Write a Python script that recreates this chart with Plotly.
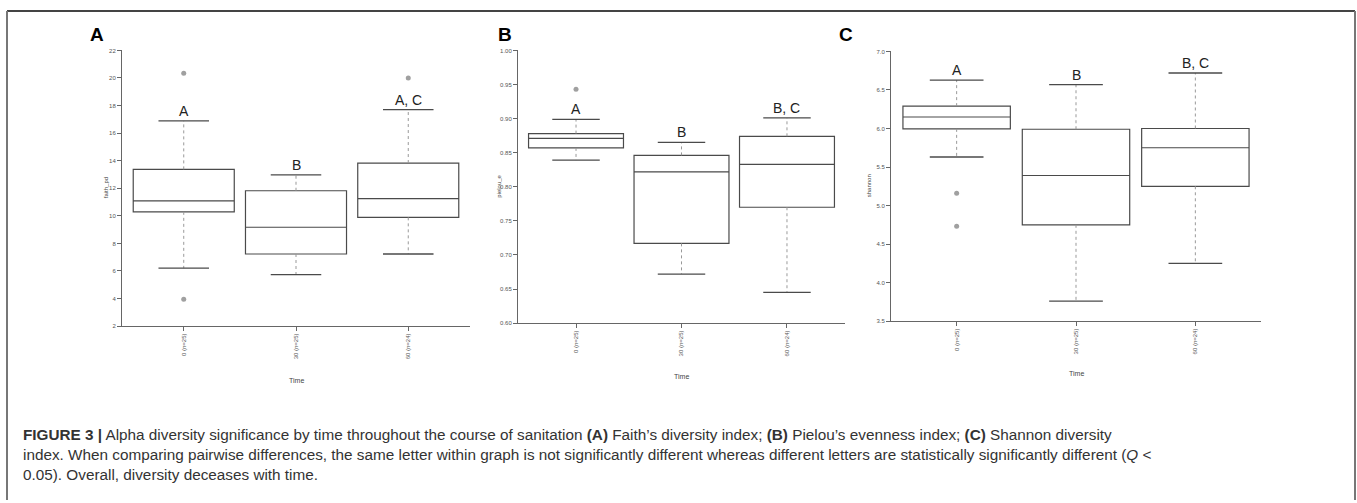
import plotly.graph_objects as go

W, H = 1357, 503

groups = ["0 (n=25)", "30 (n=25)", "60 (n=24)"]

# Panel A: faith_pd
faith_q1 = [10.29, 7.23, 9.89]
faith_med = [11.08, 9.17, 11.25]
faith_q3 = [13.37, 11.82, 13.83]
faith_lo = [6.2, 5.73, 7.23]
faith_hi = [16.89, 12.97, 17.7]
faith_out_x = [0, 0, 2]
faith_out_y = [20.35, 3.94, 20.0]
faith_letters = ["A", "B", "A, C"]

# Panel B: pielou_e
pielou_q1 = [0.857, 0.717, 0.770]
pielou_med = [0.871, 0.822, 0.833]
pielou_q3 = [0.878, 0.846, 0.874]
pielou_lo = [0.839, 0.672, 0.645]
pielou_hi = [0.899, 0.865, 0.901]
pielou_out_x = [0]
pielou_out_y = [0.943]
pielou_letters = ["A", "B", "B, C"]

# Panel C: shannon
shannon_q1 = [5.995, 4.75, 5.25]
shannon_med = [6.149, 5.39, 5.75]
shannon_q3 = [6.29, 5.99, 6.00]
shannon_lo = [5.63, 3.76, 4.25]
shannon_hi = [6.628, 6.57, 6.72]
shannon_out_x = [0, 0]
shannon_out_y = [5.16, 4.73]
shannon_letters = ["A", "B", "B, C"]

faith_ticks = [2, 4, 6, 8, 10, 12, 14, 16, 18, 20, 22]
pielou_ticks = [0.60, 0.65, 0.70, 0.75, 0.80, 0.85, 0.90, 0.95, 1.00]
shannon_ticks = [3.5, 4.0, 4.5, 5.0, 5.5, 6.0, 6.5, 7.0]

panels = [
    dict(name="A", ytitle="faith_pd", q1=faith_q1, med=faith_med, q3=faith_q3, lo=faith_lo, hi=faith_hi,
         ox=faith_out_x, oy=faith_out_y, letters=faith_letters, ticks=faith_ticks, fmt="d",
         yr=[2, 22], px=(122, 470), py=(48, 327), lab=(97, 32), ytx=106, timey=382),
    dict(name="B", ytitle="pielou_e", q1=pielou_q1, med=pielou_med, q3=pielou_q3, lo=pielou_lo, hi=pielou_hi,
         ox=pielou_out_x, oy=pielou_out_y, letters=pielou_letters, ticks=pielou_ticks, fmt=".2f",
         yr=[0.60, 1.00], px=(518, 845), py=(48, 324), lab=(505, 32), ytx=499, timey=378),
    dict(name="C", ytitle="shannon", q1=shannon_q1, med=shannon_med, q3=shannon_q3, lo=shannon_lo, hi=shannon_hi,
         ox=shannon_out_x, oy=shannon_out_y, letters=shannon_letters, ticks=shannon_ticks, fmt=".1f",
         yr=[3.5, 7.0], px=(891, 1261), py=(49, 322), lab=(846, 32), ytx=869, timey=375),
]

BOXW = 0.9
CAPW = 0.45
LINEC = "#4a4a4a"
AXC = "#666666"

fig = go.Figure()
annotations = []
layout = {}

for k, p in enumerate(panels):
    sfx = "" if k == 0 else str(k + 1)
    xa, ya = "x" + sfx, "y" + sfx
    xs = list(range(len(groups)))
    # boxes (no built-in whiskers)
    fig.add_trace(go.Box(x=xs, q1=p["q1"], median=p["med"], q3=p["q3"],
                         lowerfence=p["q1"], upperfence=p["q3"], width=BOXW,
                         fillcolor="white", line=dict(color=LINEC, width=1.2),
                         boxpoints=False, whiskerwidth=0, showlegend=False,
                         hoverinfo="skip", xaxis=xa, yaxis=ya))
    # dotted whiskers
    wx, wy = [], []
    for i in xs:
        wx += [i, i, None, i, i, None]
        wy += [p["q3"][i], p["hi"][i], None, p["q1"][i], p["lo"][i], None]
    fig.add_trace(go.Scatter(x=wx, y=wy, mode="lines", line=dict(color="#999999", width=1, dash="dot"),
                             showlegend=False, hoverinfo="skip", xaxis=xa, yaxis=ya))
    # caps
    cx, cy = [], []
    for i in xs:
        cx += [i - CAPW / 2, i + CAPW / 2, None, i - CAPW / 2, i + CAPW / 2, None]
        cy += [p["hi"][i], p["hi"][i], None, p["lo"][i], p["lo"][i], None]
    fig.add_trace(go.Scatter(x=cx, y=cy, mode="lines", line=dict(color=LINEC, width=1.3),
                             showlegend=False, hoverinfo="skip", xaxis=xa, yaxis=ya))
    # outliers
    fig.add_trace(go.Scatter(x=p["ox"], y=p["oy"], mode="markers",
                             marker=dict(color="#a0a0a0", size=5, line=dict(width=0)),
                             showlegend=False, hoverinfo="skip", xaxis=xa, yaxis=ya))
    # significance letters
    for i in xs:
        annotations.append(dict(x=i, y=p["hi"][i], xref=xa, yref=ya, text=p["letters"][i],
                                showarrow=False, yanchor="bottom", yshift=0,
                                font=dict(family="Liberation Sans, Arial", size=14, color="#222222")))
    x0, x1 = p["px"]
    y0, y1 = p["py"]
    layout["xaxis" + sfx] = dict(domain=[x0 / W, x1 / W], range=[-0.55, 2.55], anchor=ya,
                                 tickmode="array", tickvals=xs, ticktext=groups, tickangle=-90,
                                 ticks="outside", ticklen=4, tickcolor=AXC, showline=True,
                                 linecolor=AXC, linewidth=1, showgrid=False, zeroline=False,
                                 tickfont=dict(family="Liberation Sans", size=6, color="#555555"))
    layout["yaxis" + sfx] = dict(domain=[1 - y1 / H, 1 - y0 / H], range=p["yr"], anchor=xa,
                                 tickmode="array", tickvals=p["ticks"],
                                 ticktext=[format(t, p["fmt"]) if p["fmt"] != "d" else str(int(t)) for t in p["ticks"]],
                                 ticks="outside", ticklen=4, tickcolor=AXC, showline=True,
                                 linecolor=AXC, linewidth=1, showgrid=False, zeroline=False,
                                 tickfont=dict(family="Liberation Sans", size=6, color="#555555"))
    # panel label
    annotations.append(dict(x=p["lab"][0] / W, y=1 - p["lab"][1] / H, xref="paper", yref="paper",
                            text="<b>" + p["name"] + "</b>", showarrow=False, xanchor="center", yanchor="middle",
                            font=dict(family="Liberation Sans, Arial", size=19, color="#000000")))
    # y title
    annotations.append(dict(x=p["ytx"] / W, y=1 - (y0 + y1) / 2 / H, xref="paper", yref="paper",
                            text=p["ytitle"], showarrow=False, textangle=-90, xanchor="center", yanchor="middle",
                            font=dict(family="Liberation Sans, Arial", size=6, color="#444444")))
    # x title
    annotations.append(dict(x=(x0 + x1) / 2 / W, y=1 - p["timey"] / H, xref="paper", yref="paper",
                            text="Time", showarrow=False, xanchor="center", yanchor="middle",
                            font=dict(family="Liberation Sans", size=7, color="#444444")))

caption_lines = [
    "<b>FIGURE 3 |</b> Alpha diversity significance by time throughout the course of sanitation <b>(A)</b> Faith’s diversity index; <b>(B)</b> Pielou’s evenness index; <b>(C)</b> Shannon diversity",
    "index. When comparing pairwise differences, the same letter within graph is not significantly different whereas different letters are statistically significantly different (<i>Q</i> <",
    "0.05). Overall, diversity deceases with time.",
]
cap_y = [437, 457, 477]
for t, yy in zip(caption_lines, cap_y):
    annotations.append(dict(x=21 / W, y=1 - yy / H, xref="paper", yref="paper", text=t, showarrow=False,
                            xanchor="left", yanchor="middle",
                            font=dict(family="Liberation Sans, Arial", size=15.3, color="#333333")))

shapes = [
    dict(type="line", xref="paper", yref="paper", x0=7 / W, x1=1355 / W, y0=1 - 8 / H, y1=1 - 8 / H,
         line=dict(color="#444444", width=2)),
    dict(type="line", xref="paper", yref="paper", x0=7 / W, x1=7 / W, y0=0, y1=1 - 8 / H,
         line=dict(color="#777777", width=2)),
    dict(type="line", xref="paper", yref="paper", x0=1355 / W, x1=1355 / W, y0=0, y1=1 - 8 / H,
         line=dict(color="#777777", width=2)),
]

fig.update_layout(width=W, height=H, margin=dict(l=0, r=0, t=0, b=0), paper_bgcolor="white",
                  plot_bgcolor="white", annotations=annotations, shapes=shapes, showlegend=False, **layout)

fig.write_html("out.html")
